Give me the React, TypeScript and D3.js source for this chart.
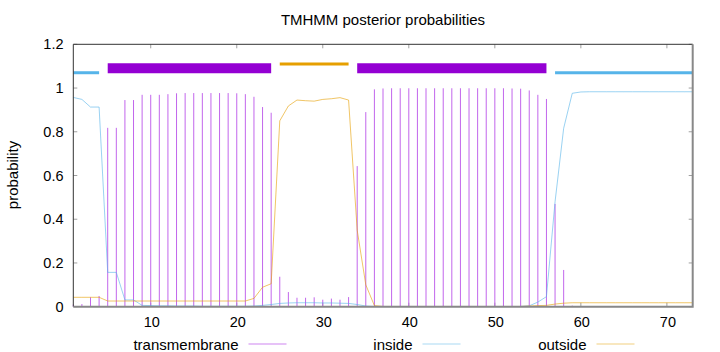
import React, { useEffect, useRef } from "react";
import * as d3 from "d3";

// residue positions 1..73
const positions: number[] = d3.range(1, 74);

// posterior probability per residue
const transmembrane: number[] = [
  0.01, 0.012, 0.043, 0.049, 0.818, 0.818, 0.945, 0.945, 0.969, 0.969,
  0.969, 0.972, 0.976, 0.977, 0.977, 0.977, 0.977, 0.977, 0.977, 0.976,
  0.972, 0.96, 0.913, 0.887, 0.137, 0.067, 0.041, 0.041, 0.043, 0.032,
  0.037, 0.032, 0.044, 0.643, 0.89, 0.994, 0.998, 0.999, 0.999, 0.999,
  0.999, 0.999, 0.999, 0.999, 0.999, 0.999, 0.999, 0.999, 0.999, 0.999,
  0.999, 0.998, 0.997, 0.989, 0.969, 0.95, 0.47, 0.168, 0.005, 0,
  0, 0, 0, 0, 0, 0, 0, 0, 0, 0,
  0, 0, 0,
];

const inside: number[] = [
  0.957, 0.948, 0.913, 0.913, 0.157, 0.157, 0.031, 0.031, 0.006, 0.005,
  0.004, 0.004, 0.003, 0.003, 0.003, 0.002, 0.002, 0.002, 0.002, 0.002,
  0.002, 0.003, 0.006, 0.01, 0.015, 0.017, 0.018, 0.018, 0.018, 0.017,
  0.017, 0.016, 0.015, 0.01, 0.003, 0.001, 0.001, 0.001, 0.001, 0.001,
  0.001, 0.001, 0.001, 0.001, 0.001, 0.001, 0.001, 0.001, 0.001, 0.001,
  0.001, 0.001, 0.001, 0.004, 0.021, 0.046, 0.48, 0.816, 0.976, 0.982,
  0.983, 0.983, 0.983, 0.983, 0.983, 0.983, 0.983, 0.983, 0.983, 0.983,
  0.983, 0.983, 0.983,
];

const outside: number[] = [
  0.043, 0.043, 0.043, 0.043, 0.026, 0.026, 0.026, 0.026, 0.026, 0.026,
  0.026, 0.026, 0.026, 0.026, 0.026, 0.026, 0.026, 0.026, 0.026, 0.026,
  0.026, 0.038, 0.089, 0.105, 0.85, 0.918, 0.945, 0.942, 0.94, 0.948,
  0.951, 0.956, 0.945, 0.35, 0.1, 0.005, 0.001, 0.001, 0.001, 0.001,
  0.001, 0.001, 0.001, 0.001, 0.001, 0.001, 0.001, 0.001, 0.001, 0.001,
  0.001, 0.001, 0.001, 0.003, 0.005, 0.006, 0.012, 0.016, 0.018, 0.018,
  0.018, 0.018, 0.018, 0.018, 0.018, 0.018, 0.018, 0.018, 0.018, 0.018,
  0.018, 0.018, 0.018,
];

// predicted topology segments [start, end]
const insideSegments: [number, number][] = [[1, 4], [57, 73]];
const tmSegments: [number, number][] = [[5, 24], [34, 56]];
const outsideSegments: [number, number][] = [[25, 33]];

const xTicks: number[] = [10, 20, 30, 40, 50, 60, 70];
const yTicks: number[] = [0, 0.2, 0.4, 0.6, 0.8, 1, 1.2];
const legendLabels: string[] = ["transmembrane", "inside", "outside"];

const App = () => {
  const chartRef = useRef<SVGSVGElement | null>(null);

  useEffect(() => {
    const width = 720;
    const height = 352;
    const font = "'Liberation Sans', Arial, Helvetica, sans-serif";

    const svg = d3.select(chartRef.current);
    svg.selectAll("*").remove();
    svg.attr("width", width).attr("height", height);

    const x = d3.scaleLinear().domain([1, 73]).range([73.3, 692.7]);
    const y = d3.scaleLinear().domain([0, 1.2]).range([306.7, 44.3]);

    const tmColor = "#c266ec";
    const inColor = "#56b4e9";
    const outColor = "#e69f00";

    // title
    svg
      .append("text")
      .attr("x", 383)
      .attr("y", 25)
      .attr("text-anchor", "middle")
      .attr("font-family", font)
      .attr("font-size", 15)
      .text("TMHMM posterior probabilities");

    // y label
    svg
      .append("text")
      .attr("transform", "translate(18,175) rotate(-90)")
      .attr("text-anchor", "middle")
      .attr("font-family", font)
      .attr("font-size", 15)
      .text("probability");

    // tick labels
    svg
      .selectAll(".ylab")
      .data(yTicks)
      .enter()
      .append("text")
      .attr("class", "ylab")
      .attr("x", 63.5)
      .attr("y", (d) => y(d) + 5)
      .attr("text-anchor", "end")
      .attr("font-family", font)
      .attr("font-size", 14.5)
      .text((d) => d3.format("~g")(d));

    svg
      .selectAll(".xlab")
      .data(xTicks)
      .enter()
      .append("text")
      .attr("class", "xlab")
      .attr("x", (d) => x(d) + 1)
      .attr("y", 327)
      .attr("text-anchor", "middle")
      .attr("font-family", font)
      .attr("font-size", 14.5)
      .text((d) => d);

    // tick marks (mirrored)
    const ticks = svg.append("g").attr("stroke", "#a0a0a0").attr("stroke-width", 1);
    yTicks.forEach((t) => {
      ticks.append("line").attr("x1", x(1)).attr("x2", x(1) + 4).attr("y1", y(t)).attr("y2", y(t));
      ticks.append("line").attr("x1", x(73)).attr("x2", x(73) - 4).attr("y1", y(t)).attr("y2", y(t));
    });
    xTicks.forEach((t) => {
      ticks.append("line").attr("x1", x(t)).attr("x2", x(t)).attr("y1", y(0)).attr("y2", y(0) - 4);
      ticks.append("line").attr("x1", x(t)).attr("x2", x(t)).attr("y1", y(1.2)).attr("y2", y(1.2) + 4);
    });

    // transmembrane impulses
    svg
      .selectAll(".imp")
      .data(positions)
      .enter()
      .append("line")
      .attr("class", "imp")
      .attr("x1", (d) => x(d))
      .attr("x2", (d) => x(d))
      .attr("y1", y(0))
      .attr("y2", (d, i) => y(transmembrane[i]))
      .attr("stroke", tmColor)
      .attr("stroke-width", 1);

    const line = d3
      .line<number>()
      .x((d, i) => x(positions[i]))
      .y((d) => y(d));

    // inside / outside curves
    svg
      .append("path")
      .datum(inside)
      .attr("fill", "none")
      .attr("stroke", inColor)
      .attr("stroke-opacity", 0.6)
      .attr("stroke-width", 1)
      .attr("d", line);

    svg
      .append("path")
      .datum(outside)
      .attr("fill", "none")
      .attr("stroke", outColor)
      .attr("stroke-opacity", 0.6)
      .attr("stroke-width", 1)
      .attr("d", line);

    // topology bars on top
    const bars = (segs: [number, number][], level: number, color: string, w: number) => {
      svg
        .selectAll(null)
        .data(segs)
        .enter()
        .append("line")
        .attr("x1", (d) => x(d[0]))
        .attr("x2", (d) => x(d[1]))
        .attr("y1", y(level))
        .attr("y2", y(level))
        .attr("stroke", color)
        .attr("stroke-width", w);
    };
    bars(insideSegments, 1.07, inColor, 3);
    bars(outsideSegments, 1.11, outColor, 3);
    bars(tmSegments, 1.09, "#9400d3", 10);

    // border
    svg
      .append("path")
      .attr("d", `M${x(1)},${y(0)} V${y(1.2)} H${x(73)}`)
      .attr("fill", "none")
      .attr("stroke", "#333")
      .attr("stroke-width", 1);
    svg
      .append("path")
      .attr("d", `M${x(73)},${y(1.2)} V${y(0)} H${x(1)}`)
      .attr("fill", "none")
      .attr("stroke", "#888")
      .attr("stroke-width", 2);

    // legend
    const legendColors = [tmColor, inColor, outColor];
    const legend = svg.append("g");
    legendLabels.forEach((label, i) => {
      const ex = 238.5 + i * 174;
      legend
        .append("text")
        .attr("x", ex)
        .attr("y", 350)
        .attr("text-anchor", "end")
        .attr("font-family", font)
        .attr("font-size", 15)
        .text(label);
      legend
        .append("line")
        .attr("x1", ex + 10)
        .attr("x2", ex + 48)
        .attr("y1", 344)
        .attr("y2", 344)
        .attr("stroke", legendColors[i])
        .attr("stroke-opacity", i === 0 ? 0.8 : 0.5)
        .attr("stroke-width", 1);
    });
  }, []);

  return (
    <svg
      ref={chartRef}
      style={{ position: "absolute", left: 0, top: 0, background: "#fff" }}
    />
  );
};

export default App;
